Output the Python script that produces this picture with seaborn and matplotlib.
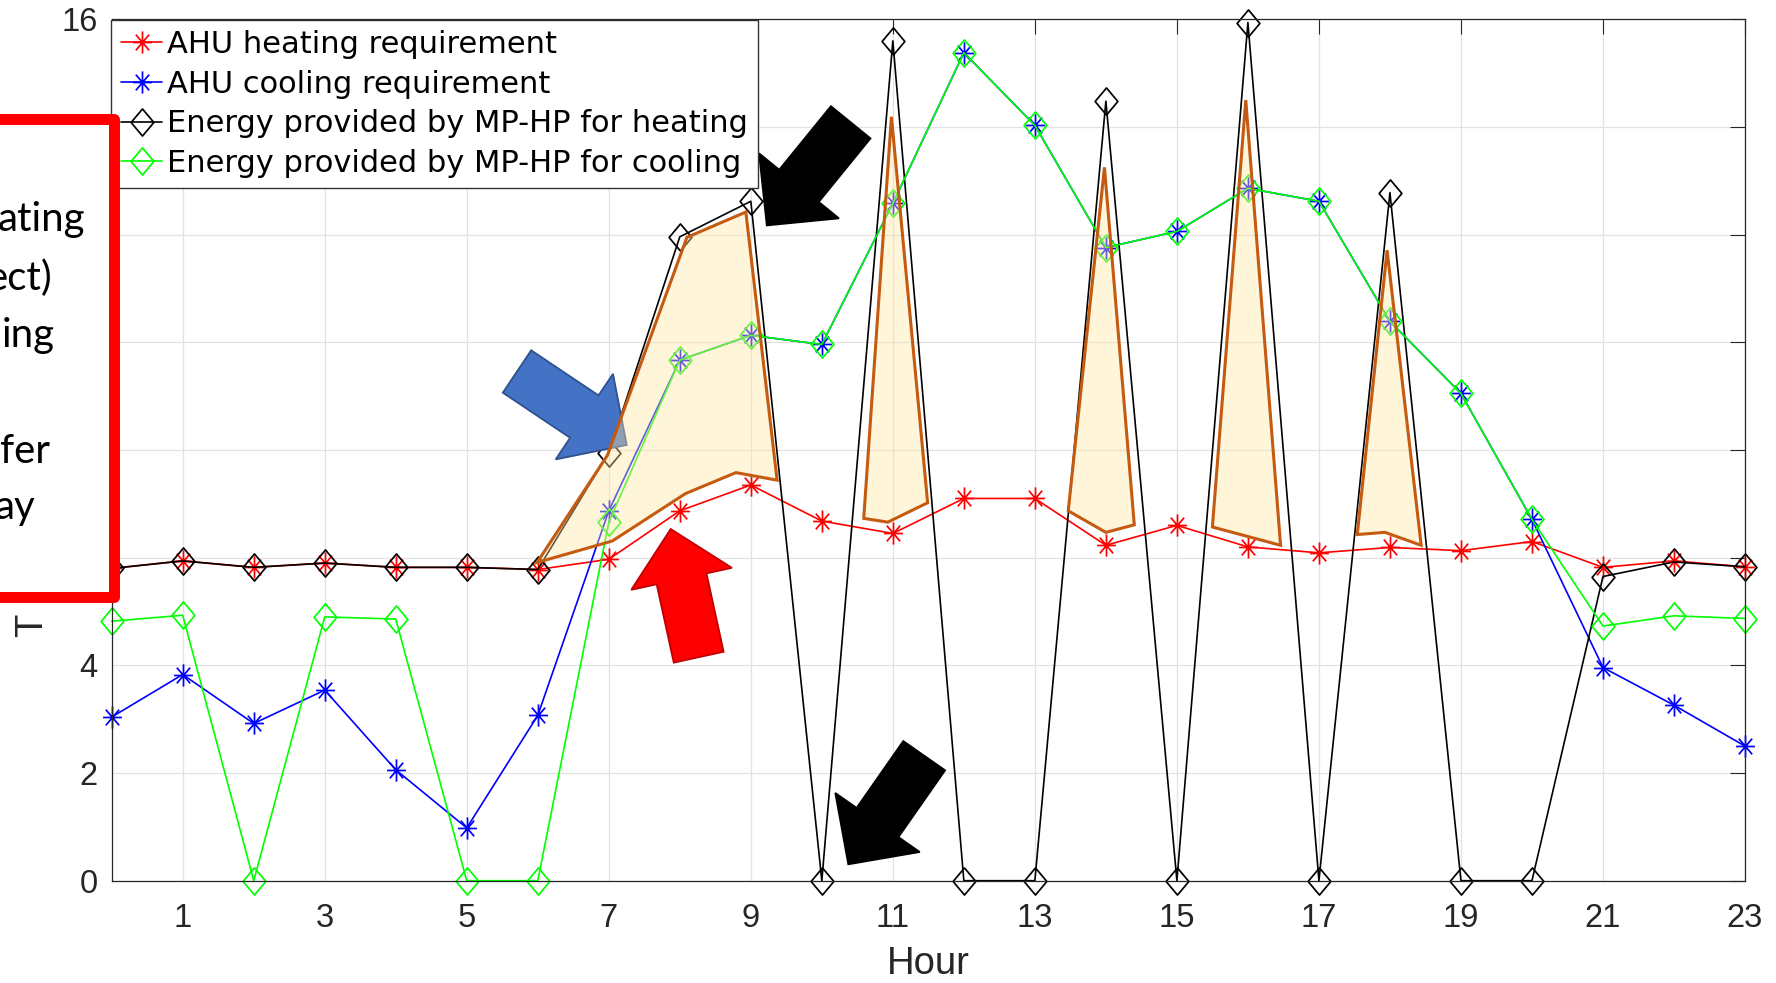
import numpy as np
import matplotlib
matplotlib.use("Agg")
import matplotlib.pyplot as plt
import seaborn as sns
from matplotlib.path import Path
from matplotlib.patches import Polygon, Rectangle

# ---------------- data ----------------
hours = list(range(24))
heat_req = [5.80, 5.94, 5.82, 5.90, 5.82, 5.82, 5.78, 5.97, 6.87, 7.35, 6.68, 6.45,
            7.10, 7.10, 6.23, 6.60, 6.20, 6.09, 6.19, 6.13, 6.30, 5.82, 5.94, 5.83]
cool_req = [3.04, 3.83, 2.92, 3.54, 2.06, 0.98, 3.07, 6.87, 9.67, 10.13, 9.96, 12.58,
            15.38, 14.03, 11.76, 12.06, 12.86, 12.62, 10.39, 9.05, 6.71, 3.96, 3.26, 2.50]
hp_heat = [5.80, 5.94, 5.82, 5.90, 5.82, 5.82, 5.78, 7.95, 11.96, 12.62, 0.0, 15.60,
           0.0, 0.0, 14.48, 0.0, 15.94, 0.0, 12.78, 0.0, 0.0, 5.65, 5.92, 5.83]
hp_cool = [4.82, 4.93, 0.0, 4.90, 4.86, 0.0, 0.0, 6.66, 9.67, 10.13, 9.96, 12.58,
           15.38, 14.03, 11.76, 12.06, 12.86, 12.62, 10.39, 9.05, 6.71, 4.73, 4.92, 4.87]

x_ticks = list(range(1, 24, 2))
y_ticks = list(range(0, 17, 2))
# labels 6..14 are hidden behind the call-out box in the reference
y_tick_labels = ["0", "2", "4", "", "", "", "", "", "16"]
series_labels = ["AHU heating requirement", "AHU cooling requirement",
                 "Energy provided by MP-HP for heating", "Energy provided by MP-HP for cooling"]
x_label = "Hour"
y_label_visible = "T"          # the rest of the y label is hidden by the call-out box
box_text = ["ating", "ect)", "ing", "fer", "ay"]

# shaded overlay shapes (hour, value vertices)
shade_hours = [[5.99, 6.98, 8.10, 8.93, 9.37, 8.79, 8.08, 7.05],
               [10.98, 11.49, 10.93, 10.59],
               [13.98, 14.40, 14.00, 13.47],
               [15.97, 16.46, 15.50],
               [17.96, 18.44, 17.93, 17.54]]
shade_vals = [[5.91, 7.90, 11.95, 12.42, 7.44, 7.58, 7.19, 6.31],
              [14.19, 7.02, 6.66, 6.73],
              [13.25, 6.61, 6.47, 6.87],
              [14.50, 6.23, 6.57],
              [11.71, 6.23, 6.47, 6.43]]

# ---------------- style ----------------
sns.set_style("white")
plt.rcParams['font.family'] = ['Liberation Sans', 'DejaVu Sans']
DARK = '#262626'

W, H = 1776, 983
fig = plt.figure(figsize=(W / 100, H / 100), dpi=100)
fig.patch.set_facecolor('white')
ax = fig.add_axes([111.7 / W, 1 - 880.7 / H, (1745 - 111.7) / W, (880.7 - 19.3) / H])

# markers (slightly narrow, like the reference)
diamond = Path([(0, 0.5), (0.42, 0), (0, -0.5), (-0.42, 0), (0, 0.5)],
               [Path.MOVETO, Path.LINETO, Path.LINETO, Path.LINETO, Path.CLOSEPOLY])
a, b = 0.425, 0.5
c, d = a * 0.7071, b * 0.7071
asterisk = Path([(-a, 0), (a, 0), (0, -b), (0, b), (-c, -d), (c, d), (-c, d), (c, -d)],
                [Path.MOVETO, Path.LINETO] * 4)

series = [(heat_req, '#FF0000', asterisk, 16),
          (cool_req, '#0000FF', asterisk, 16),
          (hp_heat, '#000000', diamond, 19.5),
          (hp_cool, '#00FF00', diamond, 19.5)]
for (vals, col, mk, ms), lab in zip(series, series_labels):
    sns.lineplot(x=hours, y=vals, ax=ax, color=col, linewidth=1.2, marker=mk,
                 markersize=ms, markerfacecolor='none', markeredgecolor=col,
                 markeredgewidth=1.25, label=lab, clip_on=False, zorder=2)


# ---------------- block arrows (annotation shapes, figure pixels) ----------------
def arrow_verts(tail, tip, sw, hw, hl):
    tail = np.array(tail, float)
    tip = np.array(tip, float)
    u = (tip - tail) / np.linalg.norm(tip - tail)
    n = np.array([-u[1], u[0]])
    base = tip - u * hl
    pts = [tail + n * sw / 2, base + n * sw / 2, base + n * hw / 2, tip,
           base - n * hw / 2, base - n * sw / 2, tail - n * sw / 2]
    return [(p[0] / W, 1 - p[1] / H) for p in pts]


arrows = [
    ((517, 371.5), (626.7, 445), '#4472C4', '#2F528F', 3),
    ((698.7, 657.2), (670.7, 529), '#FF0000', '#C00000', 5),
    ((850.7, 122.3), (766.8, 225.4), '#000000', '#000000', 5),
    ((924.2, 755.7), (848.3, 864.3), '#000000', '#000000', 5),
]
for tail, tip, fc, ec, z in arrows:
    ax.add_patch(Polygon(arrow_verts(tail, tip, 51, 103, 51), closed=True,
                         transform=fig.transFigure, facecolor=fc, edgecolor=ec,
                         linewidth=1.3, zorder=z, clip_on=False))

# shaded overlays
for hx, vy in zip(shade_hours, shade_vals):
    ax.fill(hx, vy, facecolor=(1.0, 0.9, 0.63, 0.4), edgecolor='#C55A11',
            linewidth=2.2, zorder=4)

# ---------------- axes cosmetics ----------------
ax.set_xlim(0, 23)
ax.set_ylim(0, 16)
ax.set_xticks(x_ticks)
ax.set_yticks(y_ticks)
ax.set_yticklabels(y_tick_labels)
ax.grid(True, color='#E2E2E2', linewidth=0.9)
ax.set_axisbelow(True)
ax.tick_params(axis='both', direction='in', length=11, width=0.8, color=DARK,
               labelcolor=DARK, labelsize=23.5, top=True, right=True)
ax.tick_params(axis='x', pad=16)
ax.tick_params(axis='y', pad=10)
for sp in ax.spines.values():
    sp.set_color(DARK)
    sp.set_linewidth(0.9)
    sp.set_visible(True)
ax.set_xlabel(x_label, fontsize=27.5, color=DARK, labelpad=9)
ax.set_ylabel("")

handles, labels = ax.get_legend_handles_labels()
leg = ax.legend(handles, labels, loc='upper left', bbox_to_anchor=(111 / W, 1 - 20 / H),
                bbox_transform=fig.transFigure, borderaxespad=0,
                prop={'family': 'DejaVu Sans', 'size': 22},
                handlelength=1.34, handletextpad=0.16, borderpad=0.33, labelspacing=0.35,
                frameon=True, fancybox=False, framealpha=1, edgecolor='#333333')
leg.get_frame().set_linewidth(1.0)
for t in leg.get_texts():
    t.set_color('black')

# visible part of the y-axis label
fig.text(14 / W, 1 - 637 / H, y_label_visible, rotation=90, ha='left', va='bottom',
         fontsize=27.5, color=DARK)

# ---------------- red call-out box (cropped at the left edge) ----------------
fig.add_artist(Rectangle((-30 / W, 1 - 597 / H), (113.5 + 30) / W, (597 - 118.5) / H,
                         transform=fig.transFigure, facecolor='white', edgecolor='#FF0000',
                         linewidth=7.9, joinstyle='round', zorder=10))
box_pos = [(85, 231), (52, 290), (55, 347), (50, 463), (35, 519)]
for s, (px, py) in zip(box_text, box_pos):
    fig.text(px / W, 1 - py / H, s, ha='right', va='baseline', fontsize=29,
             family=['Lato', 'DejaVu Sans'], color='black', zorder=12)

fig.savefig('out.png', dpi=100)
